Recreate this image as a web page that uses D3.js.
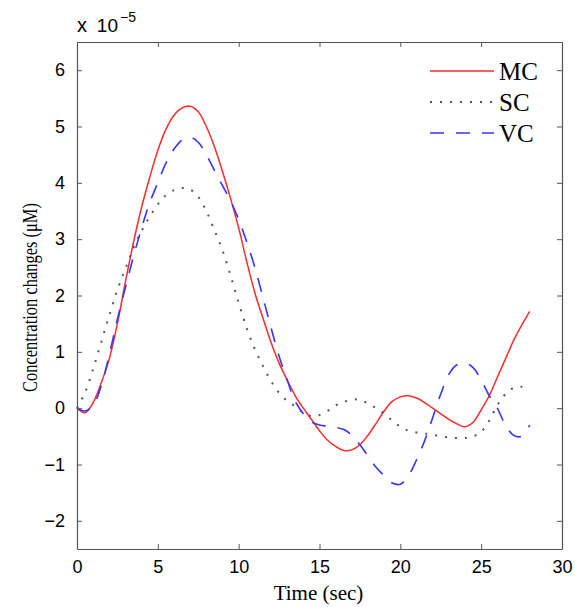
<!DOCTYPE html>
<html>
<head>
<meta charset="utf-8">
<script src="https://cdn.jsdelivr.net/npm/d3@7/dist/d3.min.js"></script>
<style>
  body { margin: 0; background: #fff; }
  svg { display: block; }
</style>
</head>
<body>
<svg id="chart" width="575" height="607"></svg>
<script>
// ---- Data (values in units of 1e-5 µM) ----
const timeMC = [0,0.5,1,1.5,2,2.5,3,3.5,4,4.5,5,5.5,6,6.5,7,7.5,8,8.5,9,9.5,10,10.5,11,11.5,12,12.5,13,13.5,14,14.5,15,15.5,16,16.5,17,17.5,18,18.5,19,19.5,20,20.5,21,21.5,22,22.5,23,23.5,24,24.5,25,25.5,26,26.5,27,27.5,28];
const valuesMC = [0,-0.08,0.1,0.45,0.88,1.5,2.25,2.95,3.57,4.1,4.58,4.95,5.2,5.33,5.36,5.26,5.0,4.64,4.2,3.72,3.2,2.6,2.05,1.6,1.17,0.8,0.5,0.22,0.0,-0.2,-0.4,-0.57,-0.68,-0.75,-0.74,-0.65,-0.48,-0.27,-0.05,0.12,0.2,0.22,0.18,0.1,0.0,-0.1,-0.2,-0.28,-0.33,-0.25,-0.03,0.22,0.55,0.87,1.2,1.47,1.72];

const timeSC = timeMC;
const valuesSC = [0,0.28,0.7,1.17,1.65,2.1,2.48,2.85,3.15,3.4,3.62,3.78,3.87,3.91,3.88,3.75,3.5,3.16,2.8,2.35,1.87,1.42,1.05,0.75,0.48,0.27,0.13,0.03,-0.08,-0.14,-0.12,-0.05,0.05,0.11,0.15,0.15,0.08,0.0,-0.1,-0.22,-0.33,-0.4,-0.43,-0.45,-0.47,-0.5,-0.52,-0.53,-0.53,-0.5,-0.42,-0.22,0.05,0.25,0.36,0.38,0.33];

const timeVC = timeMC;
const valuesVC = [0,-0.05,0.05,0.4,0.95,1.58,2.15,2.7,3.2,3.65,4.0,4.35,4.6,4.76,4.81,4.72,4.5,4.22,3.95,3.68,3.35,2.95,2.5,1.97,1.43,0.92,0.5,0.12,-0.1,-0.24,-0.3,-0.32,-0.34,-0.38,-0.48,-0.65,-0.85,-1.05,-1.2,-1.33,-1.35,-1.2,-0.92,-0.58,-0.17,0.25,0.6,0.77,0.8,0.72,0.5,0.22,0.0,-0.3,-0.48,-0.5,-0.3];

const xTicks = [0,5,10,15,20,25,30];
const yTicks = [-2,-1,0,1,2,3,4,5,6];
const seriesNames = ["MC","SC","VC"];

// ---- Layout ----
const svg = d3.select("#chart");
const L = 77, R = 562, T = 42, B = 549;
const x = d3.scaleLinear().domain([0,30]).range([L,R]);
const y = d3.scaleLinear().domain([-2.5,6.5]).range([B,T]);

const axisColor = "#555";
const tickFont = "'Liberation Sans', Arial, sans-serif";
const serif = "'Liberation Serif', 'Times New Roman', serif";

const series = [
  {name: seriesNames[0], t: timeMC, v: valuesMC, color: "#ff2a2a", dash: null, width: 1.5},
  {name: seriesNames[1], t: timeSC, v: valuesSC, color: "#555", dash: "2,8", width: 2},
  {name: seriesNames[2], t: timeVC, v: valuesVC, color: "#3535ff", dash: "14,12", width: 1.6}
];

const line = d3.line()
  .x(d => x(d[0])).y(d => y(d[1]))
  .curve(d3.curveCatmullRom.alpha(0.5));

// lines
const gLines = svg.append("g");
series.forEach(s => {
  gLines.append("path")
    .datum(s.t.map((t,i) => [t, s.v[i]]))
    .attr("d", line)
    .attr("fill", "none")
    .attr("stroke", s.color)
    .attr("stroke-width", s.width)
    .attr("stroke-dasharray", s.dash);
});

// axes (inward ticks, box)
const tickLen = 5;
const gx = svg.append("g").attr("transform", `translate(0,${B})`)
  .call(d3.axisBottom(x).tickValues(xTicks).tickSizeInner(-tickLen).tickSizeOuter(0).tickPadding(11));
const gxTop = svg.append("g").attr("transform", `translate(0,${T})`)
  .call(d3.axisTop(x).tickValues(xTicks).tickSizeInner(-tickLen).tickSizeOuter(0).tickFormat(""));
const gy = svg.append("g").attr("transform", `translate(${L},0)`)
  .call(d3.axisLeft(y).tickValues(yTicks).tickSizeInner(-tickLen).tickSizeOuter(0).tickPadding(12)
    .tickFormat(d => d < 0 ? "\u2212" + Math.abs(d) : d));
const gyRight = svg.append("g").attr("transform", `translate(${R},0)`)
  .call(d3.axisRight(y).tickValues(yTicks).tickSizeInner(-tickLen).tickSizeOuter(0).tickFormat(""));

[gx, gxTop, gy, gyRight].forEach(g => {
  g.select(".domain").attr("stroke", axisColor).attr("stroke-width", 1.2);
  g.selectAll(".tick line").attr("stroke", axisColor).attr("stroke-width", 1);
  g.selectAll(".tick text").attr("fill", "#000").style("font-family", tickFont).style("font-size", "18px");
});
gx.selectAll(".tick text").attr("dy", "0.71em");

// exponent label
svg.append("text").attr("x", 77).attr("y", 32)
  .style("font-family", tickFont).style("font-size", "20px").attr("fill", "#000")
  .text("x");
svg.append("text").attr("x", 118).attr("y", 32).attr("text-anchor", "end")
  .style("font-family", tickFont).style("font-size", "19px").attr("fill", "#000")
  .text("10");
svg.append("text").attr("x", 120).attr("y", 22)
  .style("font-family", tickFont).style("font-size", "14px").attr("fill", "#000")
  .text("\u22125");

// axis titles
svg.append("text").attr("x", (L+R)/2 - 1).attr("y", 600)
  .attr("text-anchor", "middle")
  .style("font-family", serif).style("font-size", "21px").attr("fill", "#000")
  .text("Time (sec)");

svg.append("text")
  .attr("transform", `translate(37,${(203+392)/2}) rotate(-90)`)
  .attr("text-anchor", "middle")
  .attr("textLength", 189).attr("lengthAdjust", "spacingAndGlyphs")
  .style("font-family", serif).style("font-size", "21px").attr("fill", "#000")
  .text("Concentration changes (\u03bcM)");

// legend
const legY = [71, 102, 133];
series.forEach((s, i) => {
  svg.append("line")
    .attr("x1", 430).attr("x2", 494)
    .attr("y1", legY[i]).attr("y2", legY[i])
    .attr("stroke", s.color).attr("stroke-width", s.width)
    .attr("stroke-dasharray", s.dash);
  svg.append("text").attr("x", 499).attr("y", legY[i] + 9)
    .style("font-family", serif).style("font-size", "25px").attr("fill", "#000")
    .text(s.name);
});
</script>
</body>
</html>
